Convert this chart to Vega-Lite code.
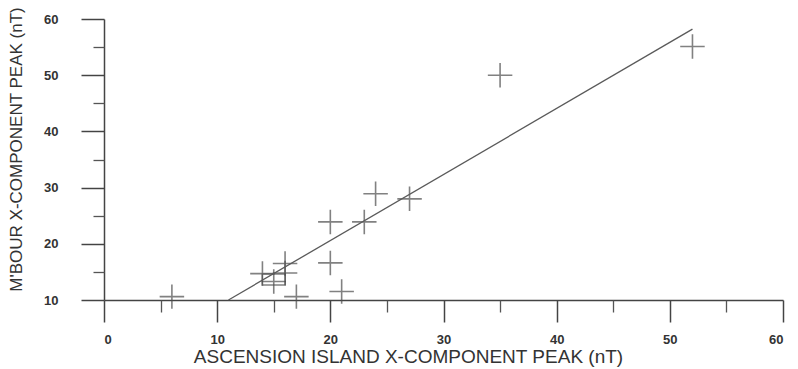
{
  "$schema": "https://vega.github.io/schema/vega-lite/v6.json",
  "width": 679,
  "height": 281,
  "autosize": "none",
  "padding": {"left": 104, "top": 19, "right": 15, "bottom": 69},
  "background": "white",
  "config": {"view": {"stroke": null}, "font": "Liberation Sans"},
  "datasets": {
    "points": [
      {"x": 6, "y": 10.6},
      {"x": 14, "y": 14.7},
      {"x": 15, "y": 13.3},
      {"x": 16, "y": 16.5},
      {"x": 16, "y": 14.8},
      {"x": 17, "y": 10.6},
      {"x": 20, "y": 23.9},
      {"x": 20, "y": 16.6},
      {"x": 21, "y": 11.5},
      {"x": 23, "y": 23.9},
      {"x": 24, "y": 28.9},
      {"x": 27, "y": 28.0},
      {"x": 35, "y": 50},
      {"x": 52, "y": 55.1}
    ],
    "box": [{"x": 15, "y": 13.65}],
    "fit": [{"x": 11, "y": 10}, {"x": 52, "y": 58.2}]
  },
  "layer": [
    {
      "data": {"name": "points"},
      "mark": {"type": "point", "shape": "M-1,0H1M0,-1V1", "size": 600, "filled": false, "stroke": "#4d4d4d", "strokeWidth": 1.6},
      "encoding": {
        "x": {"field": "x", "type": "quantitative", "scale": {"domain": [0, 60], "nice": false},
          "axis": {"orient": "bottom", "values": [0, 10, 20, 30, 40, 50, 60], "grid": false, "tickSize": 22, "tickWidth": 1.5, "tickColor": "#444", "domainColor": "#444", "domainWidth": 1.5,
            "labelFont": "Liberation Sans", "labelFontSize": 13, "labelFontWeight": "bold", "labelColor": "#333", "labelPadding": 11,
            "title": "ASCENSION ISLAND X-COMPONENT PEAK (nT)", "titleFont": "Liberation Sans", "titleFontSize": 19, "titleFontWeight": "normal", "titleColor": "#333",
            "titleX": 304, "titleY": 56, "titleBaseline": "middle", "titleAlign": "center"}},
        "y": {"field": "y", "type": "quantitative", "scale": {"domain": [10, 60], "nice": false, "zero": false},
          "axis": {"orient": "left", "values": [10, 20, 30, 40, 50, 60], "grid": false, "tickSize": 23, "tickWidth": 1.5, "tickColor": "#444", "domainColor": "#444", "domainWidth": 1.5,
            "labelFont": "Liberation Sans", "labelFontSize": 13, "labelFontWeight": "bold", "labelColor": "#333", "labelPadding": 23,
            "title": "M'BOUR X-COMPONENT PEAK (nT)", "titleFont": "Liberation Sans", "titleFontSize": 17, "titleFontWeight": "normal", "titleColor": "#333",
            "titleX": -88, "titleY": 130, "titleAngle": -90, "titleBaseline": "middle", "titleAlign": "center"}}
      }
    },
    {
      "data": {"name": "box"},
      "mark": {"type": "point", "shape": "M-1,-0.48H1V0.48H-1Z", "size": 529, "filled": false, "stroke": "#4d4d4d", "strokeWidth": 1.4},
      "encoding": {
        "x": {"field": "x", "type": "quantitative", "axis": null},
        "y": {"field": "y", "type": "quantitative", "axis": null}
      }
    },
    {
      "data": {"name": "fit"},
      "mark": {"type": "line", "color": "#5a5a5a", "strokeWidth": 1.3},
      "encoding": {
        "x": {"field": "x", "type": "quantitative", "axis": null},
        "y": {"field": "y", "type": "quantitative", "axis": null}
      }
    },
    {
      "data": {"name": "fit"},
      "mark": {"type": "point", "opacity": 0},
      "encoding": {
        "x": {"field": "x", "type": "quantitative",
          "axis": {"orient": "bottom", "values": [5, 15, 25, 35, 45, 55], "grid": false, "labels": false, "domain": false, "title": null, "tickSize": 12, "tickWidth": 1.3, "tickColor": "#555"}},
        "y": {"field": "y", "type": "quantitative",
          "axis": {"orient": "left", "values": [15, 25, 35, 45, 55], "grid": false, "labels": false, "domain": false, "title": null, "tickSize": 11, "tickWidth": 1.3, "tickColor": "#555"}}
      }
    }
  ],
  "resolve": {"axis": {"x": "independent", "y": "independent"}}
}
